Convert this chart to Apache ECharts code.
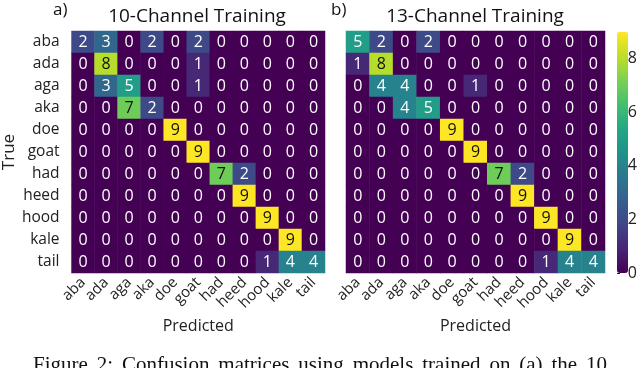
<!DOCTYPE html>
<html><head><meta charset="utf-8">
<script src="https://cdn.jsdelivr.net/npm/echarts@6/dist/echarts.min.js"></script>
<style>html,body{margin:0;padding:0;background:#fff}#c{width:640px;height:368px}</style>
</head><body><div id="c"></div>
<script>
var categories = ['aba','ada','aga','aka','doe','goat','had','heed','hood','kale','tail'];
var matrixA = [
  [2,3,0,2,0,2,0,0,0,0,0],
  [0,8,0,0,0,1,0,0,0,0,0],
  [0,3,5,0,0,1,0,0,0,0,0],
  [0,0,7,2,0,0,0,0,0,0,0],
  [0,0,0,0,9,0,0,0,0,0,0],
  [0,0,0,0,0,9,0,0,0,0,0],
  [0,0,0,0,0,0,7,2,0,0,0],
  [0,0,0,0,0,0,0,9,0,0,0],
  [0,0,0,0,0,0,0,0,9,0,0],
  [0,0,0,0,0,0,0,0,0,9,0],
  [0,0,0,0,0,0,0,0,1,4,4]
];
var matrixB = [
  [5,2,0,2,0,0,0,0,0,0,0],
  [1,8,0,0,0,0,0,0,0,0,0],
  [0,4,4,0,0,1,0,0,0,0,0],
  [0,0,4,5,0,0,0,0,0,0,0],
  [0,0,0,0,9,0,0,0,0,0,0],
  [0,0,0,0,0,9,0,0,0,0,0],
  [0,0,0,0,0,0,7,2,0,0,0],
  [0,0,0,0,0,0,0,9,0,0,0],
  [0,0,0,0,0,0,0,0,9,0,0],
  [0,0,0,0,0,0,0,0,0,9,0],
  [0,0,0,0,0,0,0,0,1,4,4]
];
var titleA = '10-Channel Training';
var titleB = '13-Channel Training';
var panelA = 'a)', panelB = 'b)';
var colorbarMin = 0, colorbarMax = 9, colorbarTickStep = 2;
var caption = 'Figure 2: Confusion matrices using models trained on (a) the 10';

var viridis = ['#440154','#482475','#414487','#355f8d','#2a788e','#21918c','#22a884','#44bf70','#7ad151','#bddf26','#fde725'];
var FONT = 'Open Sans';

function toData(m){
  var out = [];
  for (var r = 0; r < m.length; r++) for (var c = 0; c < m[r].length; c++) {
    var v = m[r][c];
    out.push({value:[c, r, v], label:{color: v >= 7 ? '#111' : '#fff'}});
  }
  return out;
}
function xAx(gi){
  return {type:'category', data:categories, gridIndex:gi,
    axisLine:{show:false}, axisTick:{show:false}, splitLine:{show:false},
    axisLabel:{rotate:45, fontSize:15, color:'#222', fontFamily:FONT, margin:7, interval:0},
    name:'Predicted', nameLocation:'middle', nameGap:45,
    nameTextStyle:{fontSize:16, color:'#222', fontFamily:FONT}};
}
function yAx(gi, showLabels){
  return {type:'category', data:categories, gridIndex:gi, inverse:true,
    axisLine:{show:false}, axisTick:{show:false}, splitLine:{show:false},
    axisLabel:{show:showLabels, fontSize:15.5, color:'#222', fontFamily:FONT, margin:12, interval:0},
    name: showLabels ? 'True' : '', nameLocation:'middle', nameGap:46, nameRotate:90,
    nameTextStyle:{fontSize:17, color:'#222', fontFamily:FONT}};
}
// caption words spread over the caption width (justified text)
function captionWords(){
  var cv = document.createElement('canvas').getContext('2d');
  var fs = 21;
  cv.font = fs + 'px "Liberation Serif"';
  var words = caption.split(' ');
  var widths = words.map(function(w){ return cv.measureText(w).width; });
  var total = widths.reduce(function(a,b){return a+b;}, 0);
  var x0 = 33, x1 = 607;
  var gap = (x1 - x0 - total) / (words.length - 1);
  var els = [], x = x0;
  for (var i = 0; i < words.length; i++) {
    els.push({type:'text', x:x, y:355, style:{text:words[i], fontSize:fs, fontFamily:'Liberation Serif', fill:'#111'}});
    x += widths[i] + gap;
  }
  return els;
}
var labelCfg = {show:true, fontSize:16, fontFamily:FONT};
var titleStyle = {fontSize:19, fontFamily:FONT, fill:'#111', textAlign:'center'};
var chart = echarts.init(document.getElementById('c'));
chart.setOption({
  animation:false,
  backgroundColor:'#fff',
  grid:[
    {left:69, top:31, width:256, height:242},
    {left:346, top:31, width:259, height:242},
    {left:617, top:32, width:11, height:241}
  ],
  xAxis:[xAx(0), xAx(1),
    {type:'value', gridIndex:2, show:false, min:0, max:1}],
  yAxis:[yAx(0,true), yAx(1,false),
    {type:'value', gridIndex:2, position:'right', min:colorbarMin, max:colorbarMax, interval:colorbarTickStep,
     axisLine:{show:false}, axisTick:{show:true, length:3, lineStyle:{color:'#222'}}, splitLine:{show:false},
     axisLabel:{fontSize:16, color:'#222', fontFamily:FONT, margin:4, showMaxLabel:false}}],
  visualMap:{type:'continuous', min:colorbarMin, max:colorbarMax, calculable:false, show:true,
    left:617, top:32, itemWidth:11, itemHeight:241, padding:0, text:null, seriesIndex:[0,1],
    inRange:{color:viridis}},
  series:[
    {type:'heatmap', xAxisIndex:0, yAxisIndex:0, data:toData(matrixA), label:labelCfg, itemStyle:{borderWidth:0}},
    {type:'heatmap', xAxisIndex:1, yAxisIndex:1, data:toData(matrixB), label:labelCfg, itemStyle:{borderWidth:0}}
  ],
  graphic:[
    {type:'text', x:197, y:7, style:Object.assign({text:titleA}, titleStyle)},
    {type:'text', x:475, y:7, style:Object.assign({text:titleB}, titleStyle)},
    {type:'text', x:53, y:2, style:{text:panelA, fontSize:17, fontFamily:FONT, fill:'#111'}},
    {type:'text', x:331, y:2, style:{text:panelB, fontSize:17, fontFamily:FONT, fill:'#111'}}
  ].concat(captionWords())
});
</script></body></html>
